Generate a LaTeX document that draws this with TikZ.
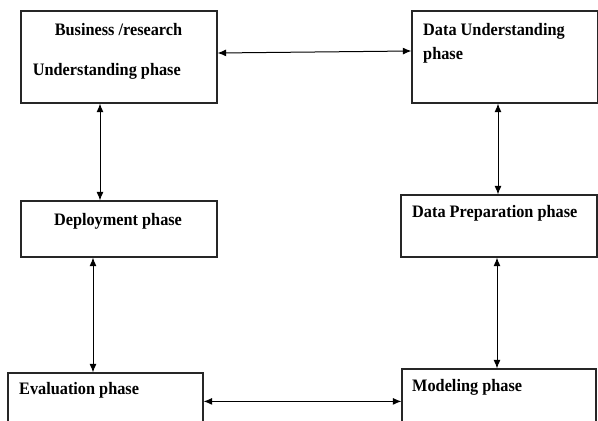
\documentclass[tikz,border=0pt]{standalone}
\usepackage{fontspec}
\setmainfont{Liberation Serif}[FakeStretch=0.93]
\usetikzlibrary{arrows.meta}
\tikzset{
  phasebox/.style={draw=black!85, line width=1.2pt, rectangle, inner sep=0pt, fill=none},
  lbl/.style={font=\bfseries\fontsize{17.5}{20}\selectfont, inner sep=0pt, text=black},
  link/.style={line width=1pt, {Latex[length=8.5pt,width=7pt]}-{Latex[length=8.5pt,width=7pt]}}
}
\begin{document}
\begin{tikzpicture}[x=1pt,y=-1pt]
\useasboundingbox (0,0) rectangle (598,421);
\clip (0,0) rectangle (598,421);
\fill[white] (0,0) rectangle (598,421);
% boxes
\node[phasebox, minimum width=196pt, minimum height=92pt] (bus) at (119,57) {};
\node[phasebox, minimum width=185.5pt, minimum height=92pt] (dun) at (504.75,57) {};
\node[phasebox, minimum width=196pt, minimum height=56pt] (dep) at (119,229) {};
\node[phasebox, minimum width=196pt, minimum height=62pt] (prep) at (499,226) {};
\node[phasebox, minimum width=195pt, minimum height=80pt] (eval) at (105.5,413) {};
\node[phasebox, minimum width=194pt, minimum height=80pt] (mod) at (499,409) {};
% labels
\node[lbl, anchor=base] (t1) at (118.5,35) {Business /research};
\node[lbl, anchor=base west] (t2) at (32.7,75) {Understanding phase};
\node[lbl, anchor=base west] (t3) at (423,35) {Data Understanding};
\node[lbl, anchor=base west] (t4) at (423,59.3) {phase};
\node[lbl, anchor=base] (t5) at (118,225) {Deployment phase};
\node[lbl, anchor=base west] (t6) at (412,217.7) {Data Preparation phase};
\node[lbl, anchor=base west] (t7) at (19,394.3) {Evaluation phase};
\node[lbl, anchor=base west] (t8) at (412,391.7) {Modeling phase};
% connectors
\draw[link] ([yshift=4pt]bus.east) -- ([yshift=6pt]dun.west);
\draw[link] ([xshift=-19pt]bus.south) -- ([xshift=-19pt]dep.north);
\draw[link] ([xshift=-26pt]dep.south) -- ([xshift=-12.5pt]eval.north);
\draw[link] ([xshift=-6.75pt]dun.south) -- ([xshift=-1pt]prep.north);
\draw[link] ([xshift=-2pt]prep.south) -- ([xshift=-2pt]mod.north);
\draw[link] ([yshift=-29pt]eval.north east) -- ([yshift=-33pt]mod.north west);
\end{tikzpicture}
\end{document}
